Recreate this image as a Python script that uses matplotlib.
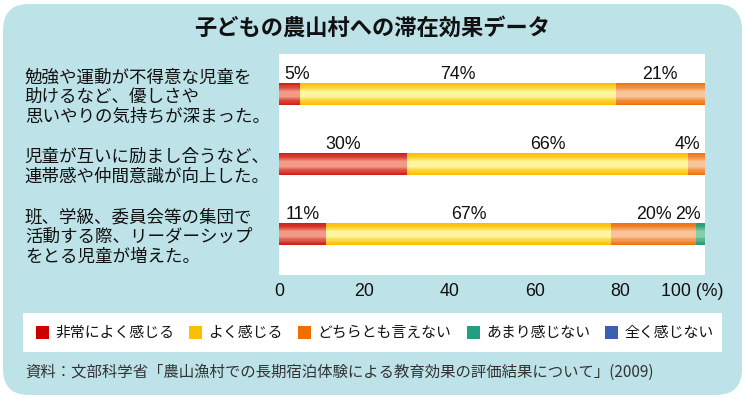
import numpy as np
import matplotlib
matplotlib.use("Agg")
import matplotlib.pyplot as plt
from matplotlib.patches import FancyBboxPatch, Rectangle
from matplotlib.colors import to_rgb

plt.rcParams['font.family'] = ['Noto Sans CJK JP', 'DejaVu Sans']

# ===================== データ =====================
title = "子どもの農山村への滞在効果データ"
questions = [
    "勉強や運動が不得意な児童を\n助けるなど、優しさや\n思いやりの気持ちが深まった。",
    "児童が互いに励まし合うなど、\n連帯感や仲間意識が向上した。",
    "班、学級、委員会等の集団で\n活動する際、リーダーシップ\nをとる児童が増えた。",
]
categories = ["非常によく感じる", "よく感じる", "どちらとも言えない", "あまり感じない", "全く感じない"]
very_much = [5, 30, 11]
somewhat  = [74, 66, 67]
neutral   = [21, 4, 20]
not_much  = [0, 0, 2]
not_at_all = [0, 0, 0]
xticks = [0, 20, 40, 60, 80]
source = "資料：文部科学省「農山漁村での長期宿泊体験による教育効果の評価結果について」(2009)"

series = [very_much, somewhat, neutral, not_much, not_at_all]
# 棒の色 (縁の濃い色, 中央の明るい色) と凡例の色
bar_colors = [("#cf2119", "#f29a86"), ("#fbbf00", "#fff59e"), ("#ef7410", "#f9c49a"),
              ("#279a78", "#86cfa8"), ("#3a5fb0", "#90a8dc")]
legend_colors = ["#cc0000", "#f8c000", "#ee6e00", "#229e80", "#3b5fb0"]
BG = "#bde2e8"

W, H = 745, 399
fig = plt.figure(figsize=(W / 100, H / 100), dpi=100, facecolor="white")

# ---- 背景 (ピクセル座標) ----
bg = fig.add_axes([0, 0, 1, 1])
bg.set_xlim(0, W)
bg.set_ylim(H, 0)
bg.axis("off")
bg.add_patch(FancyBboxPatch((3, 4), 739, 391, boxstyle="round,pad=0,rounding_size=26",
                            fc=BG, ec="none"))
bg.add_patch(Rectangle((23, 313), 699, 39, fc="white", ec="none"))

# ---- 凡例 ----
leg_x = [36, 189, 298, 467, 605]
for x0, lab, col in zip(leg_x, categories, legend_colors):
    bg.add_patch(Rectangle((x0, 326), 13, 13, fc=col, ec="none"))
    bg.text(x0 + 19, 333, lab, fontsize=10.7, va="center", ha="left", color="#111")

bg.text(25, 372, source, fontsize=11.1, va="center", ha="left", color="#333")
fig.text(372 / W, 1 - 28 / H, title, fontsize=16, fontweight="bold",
         ha="center", va="center", color="#111")

# ---- グラフ本体 ----
ax = fig.add_axes([279 / W, 1 - 275 / H, 426 / W, 221 / H])
ax.set_facecolor("white")
ypos = np.arange(len(questions))
bh = 0.314
n_layers = 8
left = np.zeros(len(questions))
for vals, (dark, light) in zip(series, bar_colors):
    vals = np.array(vals, dtype=float)
    d, l = np.array(to_rgb(dark)), np.array(to_rgb(light))
    for k in range(n_layers):
        t = k / (n_layers - 1)
        c = d + (l - d) * t ** 1.3
        ax.barh(ypos, vals, left=left, height=bh * (1 - 0.85 * k / n_layers),
                color=c, edgecolor="none", zorder=3)
    left += vals

# ---- 数値ラベル ----
num_font = dict(family="Liberation Sans", fontsize=12.8, color="#111")
for i in range(len(questions)):
    start = 0.0
    segs = [s[i] for s in series]
    last = max(j for j, v in enumerate(segs) if v > 0)
    for j, v in enumerate(segs):
        if v <= 0:
            continue
        ty = i - bh / 2 - 0.06
        if j == 0 and v < 8:
            ax.text(start + 1.2, ty, f"{v}%", ha="left", va="baseline", **num_font)
        elif j == last and v < 8:
            ax.text(99, ty, f"{v}%", ha="right", va="baseline", **num_font)
        else:
            ax.text(start + v / 2, ty, f"{v}%", ha="center", va="baseline", **num_font)
        start += v

ax.set_xlim(0, 100)
ax.set_ylim(2.58, -0.57)
ax.set_xticks(xticks)
ax.set_xticklabels([str(t) for t in xticks], family="Liberation Sans", fontsize=12.8)
ax.annotate("100 (%)", xy=(100, 0), xycoords=("data", "axes fraction"),
            xytext=(-9, -6), textcoords="offset points", ha="center", va="top",
            family="Liberation Sans", fontsize=12.8, color="#111")
ax.tick_params(axis="x", length=0, pad=6, colors="#111")
ax.set_yticks(ypos)
ax.set_yticklabels(questions, fontsize=12.6, color="#111")
ax.tick_params(axis="y", length=0, pad=183)
for lbl in ax.get_yticklabels():
    lbl.set_ha("left")
    lbl.set_linespacing(1.12)
ax.set_xticks([20, 40, 60, 80], minor=True)
ax.grid(axis="x", which="minor", color=BG, lw=2, zorder=1)
for s in ax.spines.values():
    s.set_visible(False)

fig.savefig("out.png", dpi=100)
